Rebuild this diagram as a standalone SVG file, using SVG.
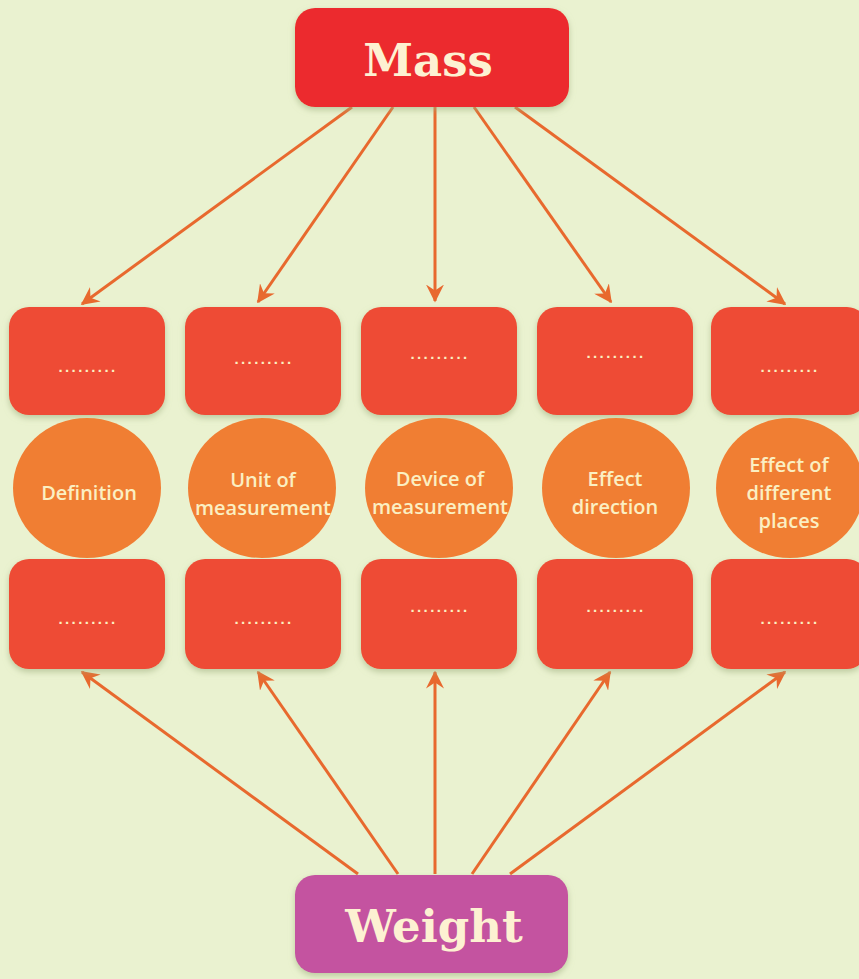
<svg xmlns="http://www.w3.org/2000/svg" width="859" height="979" viewBox="0 0 859 979">
<style>
.box{fill:#EE4C35;}
.circ{fill:#F07E33;}
.lbl{font-family:"Open Sans","Noto Sans",sans-serif;font-weight:600;font-size:20px;fill:#FBEFC2;text-anchor:middle;}
.dots{font-family:"Liberation Sans",sans-serif;font-weight:bold;font-size:15px;fill:#FBEFC2;text-anchor:middle;letter-spacing:2.4px;}
.title{font-family:"DejaVu Serif","Liberation Serif",serif;font-weight:bold;font-size:45px;fill:#FDF1D2;text-anchor:middle;}
.con{stroke:#E8692E;stroke-width:3;fill:none;marker-end:url(#ah);}
</style>
<defs>
<marker id="ah" viewBox="0 0 12 12" refX="11" refY="6" markerWidth="6" markerHeight="6" orient="auto" markerUnits="strokeWidth">
<path d="M0,0 L12,6 L0,12 L4,6 Z" fill="#E8692E"/>
</marker>
<filter id="sh" x="-10%" y="-10%" width="120%" height="130%">
<feDropShadow dx="0" dy="3" stdDeviation="3" flood-color="#9DAF7E" flood-opacity="0.6"/>
</filter>
</defs>
<rect x="0" y="0" width="859" height="979" fill="#EAF2D0"/>
<g id="connectors">
<line class="con" x1="352" y1="107" x2="82" y2="304"/>
<line class="con" x1="393" y1="107" x2="258" y2="302"/>
<line class="con" x1="435" y1="107" x2="435" y2="301"/>
<line class="con" x1="474" y1="107" x2="611" y2="302"/>
<line class="con" x1="515" y1="107" x2="785" y2="304"/>
<line class="con" x1="358" y1="874" x2="82" y2="672"/>
<line class="con" x1="398" y1="874" x2="258" y2="672"/>
<line class="con" x1="435" y1="874" x2="435" y2="672"/>
<line class="con" x1="472" y1="874" x2="610" y2="672"/>
<line class="con" x1="510" y1="874" x2="785" y2="672"/>
</g>
<g id="mass">
<rect x="295" y="8" width="274" height="99" rx="20" fill="#EC2C2E" filter="url(#sh)"/>
<text class="title" x="428" y="76">Mass</text>
</g>
<g id="weight">
<rect x="295" y="875" width="273" height="98" rx="20" fill="#C452A0" filter="url(#sh)"/>
<text class="title" x="434" y="942">Weight</text>
</g>
<g id="top1"><rect class="box" x="9" y="307" width="156" height="108" rx="20" filter="url(#sh)"/><text class="dots" x="88" y="372">.........</text></g>
<g id="top2"><rect class="box" x="185" y="307" width="156" height="108" rx="20" filter="url(#sh)"/><text class="dots" x="264" y="364">.........</text></g>
<g id="top3"><rect class="box" x="361" y="307" width="156" height="108" rx="20" filter="url(#sh)"/><text class="dots" x="440" y="359">.........</text></g>
<g id="top4"><rect class="box" x="537" y="307" width="156" height="108" rx="20" filter="url(#sh)"/><text class="dots" x="616" y="358">.........</text></g>
<g id="top5"><rect class="box" x="711" y="307" width="156" height="108" rx="20" filter="url(#sh)"/><text class="dots" x="790" y="372">.........</text></g>
<g id="c1"><ellipse class="circ" cx="87" cy="488" rx="74" ry="70"/><text class="lbl" x="89" y="500">Definition</text></g>
<g id="c2"><ellipse class="circ" cx="262" cy="488" rx="74" ry="70"/><text class="lbl" x="263" y="487">Unit of</text><text class="lbl" x="263" y="515">measurement</text></g>
<g id="c3"><ellipse class="circ" cx="439" cy="488" rx="74" ry="70"/><text class="lbl" x="440" y="486">Device of</text><text class="lbl" x="440" y="514">measurement</text></g>
<g id="c4"><ellipse class="circ" cx="616" cy="488" rx="74" ry="70"/><text class="lbl" x="615" y="486">Effect</text><text class="lbl" x="615" y="514">direction</text></g>
<g id="c5"><ellipse class="circ" cx="790" cy="488" rx="74" ry="70"/><text class="lbl" x="789" y="472">Effect of</text><text class="lbl" x="789" y="500">different</text><text class="lbl" x="789" y="528">places</text></g>
<g id="bot1"><rect class="box" x="9" y="559" width="156" height="110" rx="20" filter="url(#sh)"/><text class="dots" x="88" y="624">.........</text></g>
<g id="bot2"><rect class="box" x="185" y="559" width="156" height="110" rx="20" filter="url(#sh)"/><text class="dots" x="264" y="624">.........</text></g>
<g id="bot3"><rect class="box" x="361" y="559" width="156" height="110" rx="20" filter="url(#sh)"/><text class="dots" x="440" y="612">.........</text></g>
<g id="bot4"><rect class="box" x="537" y="559" width="156" height="110" rx="20" filter="url(#sh)"/><text class="dots" x="616" y="612">.........</text></g>
<g id="bot5"><rect class="box" x="711" y="559" width="156" height="110" rx="20" filter="url(#sh)"/><text class="dots" x="790" y="624">.........</text></g>
</svg>
